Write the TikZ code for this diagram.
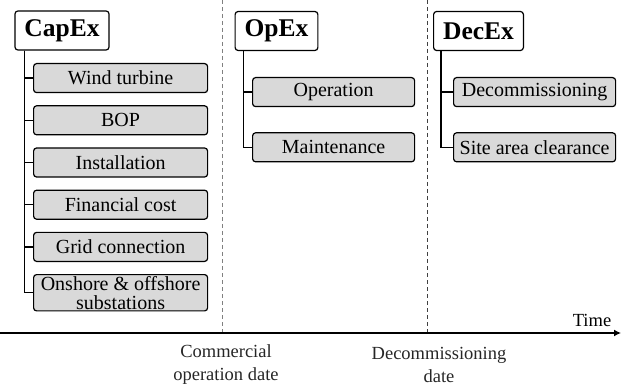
\documentclass[tikz,border=0pt]{standalone}
\usepackage{fontspec}
\setmainfont{Liberation Serif}
\usetikzlibrary{positioning,arrows.meta}

\definecolor{itemgray}{HTML}{D9D9D9}

\tikzset{
  costhead/.style={draw,rounded corners=3pt,line width=1.2pt,fill=white,
    font=\fontsize{25.5}{28}\selectfont\bfseries,minimum height=39pt,inner xsep=9.5pt},
  costitem/.style={draw,rounded corners=3pt,line width=1.2pt,fill=itemgray,
    font=\fontsize{20}{19}\selectfont,minimum height=29pt,inner sep=1.5pt,align=center},
  branch/.style={line width=1.2pt},
  milestone/.style={dash pattern=on 4pt off 3pt,line width=0.8pt},
  datelabel/.style={font=\fontsize{18.5}{23}\selectfont,align=center,text=black!85},
}

\begin{document}
\begin{tikzpicture}[x=1pt,y=-1pt,node distance=12pt]
\useasboundingbox (0,0) rectangle (621,390);

% CapEx
\node[costhead] (capex) at (62,30.5) {CapEx};
\node[costitem,minimum width=174pt,anchor=north west] (wt) at (33,63) {Wind turbine};
\node[costitem,minimum width=174pt] (bop) [below=of wt] {BOP};
\node[costitem,minimum width=174pt] (inst) [below=of bop] {Installation};
\node[costitem,minimum width=174pt] (fin) [below=of inst] {Financial cost};
\node[costitem,minimum width=174pt] (grid) [below=of fin] {Grid connection};
\node[costitem,minimum width=174pt] (sub) [below=of grid] {Onshore \& offshore\\substations};
\foreach \n in {wt,bop,inst,fin,grid,sub}
  \draw[branch] ([xshift=10pt]capex.south west) |- (\n.west);

% OpEx
\node[costhead] (opex) at (276.5,31) {OpEx};
\node[costitem,minimum width=162pt,anchor=north west] (op) at (252,77) {Operation};
\node[costitem,minimum width=162pt] (mnt) [below=25pt of op] {Maintenance};
\foreach \n in {op,mnt}
  \draw[branch] ([xshift=9pt]opex.south west) |- (\n.west);

% DecEx
\node[costhead] (decex) at (478.5,31) {DecEx};
\node[costitem,minimum width=162pt,anchor=north west] (dec) at (453,77) {Decommissioning};
\node[costitem,minimum width=162pt] (site) [below=25pt of dec] {Site area clearance};
\foreach \n in {dec,site}
  \draw[branch] ([xshift=8pt]decex.south west) |- (\n.west);

% time axis
\coordinate (t0) at (0,333);
\coordinate (t1) at (621,333);
\coordinate (cod) at (222,333);
\coordinate (codtop) at (222,0);
\coordinate (dd) at (427,333);
\coordinate (ddtop) at (427,0);
\draw[milestone,gray] (codtop) -- (cod);
\draw[milestone,black!75] (ddtop) -- (dd);
\draw[line width=2.4pt,-{Latex[length=7pt,width=7pt]}] (t0) -- (t1);
\node[datelabel,text=black] (time) at (592,320) {Time};
\node[datelabel] (codlbl) at (226,364.5) {Commercial\\operation date};
\node[datelabel] (ddlbl) at (439,364.5) {Decommissioning\\date};
\end{tikzpicture}
\end{document}
